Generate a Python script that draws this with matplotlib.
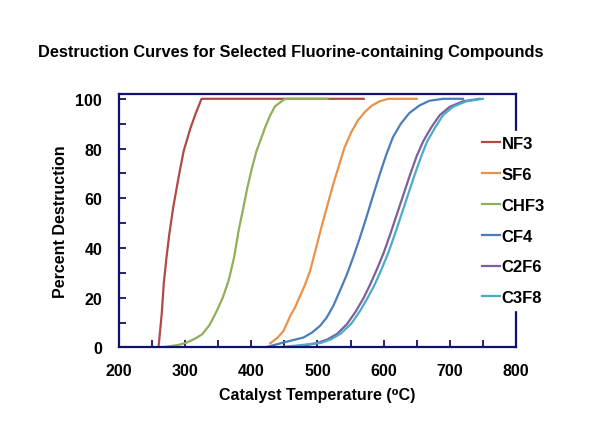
import numpy as np
import matplotlib
matplotlib.use('Agg')
import matplotlib.pyplot as plt
from matplotlib.ticker import MultipleLocator

plt.rcParams['font.family'] = ['Liberation Sans', 'DejaVu Sans']
plt.rcParams['font.weight'] = 'bold'

# data
nf3_t = [260, 265, 268, 272, 276, 282, 290, 298, 308, 316, 325, 570]
nf3_v = [0, 14, 26, 36, 45, 56, 68, 79, 88, 94, 100, 100]

sf6_t = [429, 440, 449, 459, 466, 474, 481, 489, 497, 506, 515, 524, 533, 541,
         551, 561, 571, 582, 594, 607, 650]
sf6_v = [1.7, 4, 6.7, 12.7, 16, 20.8, 25, 30.8, 39, 48.3, 57, 65.7, 73.5, 80.4,
         86.5, 91.2, 94.5, 97.2, 99, 100, 100]

chf3_t = [265, 290, 303, 315, 326, 337, 348, 357, 366, 374, 381, 388, 394, 401,
          408, 415, 421, 428, 436, 451, 515]
chf3_v = [0, 1, 2, 3.5, 5.3, 9, 14.7, 20, 27, 36, 47, 56, 64, 72,
          79, 84, 88.5, 93, 97, 100, 100]

cf4_t = [421, 435, 449, 464, 479, 492, 504, 514, 524, 534, 544, 554, 564, 574,
         584, 594, 604, 614, 626, 639, 654, 669, 690, 720]
cf4_v = [0, 1, 2, 3, 4, 6, 8.7, 12, 16.7, 22.8, 29, 36.2, 44, 52.3,
         61, 69.5, 77.5, 84.5, 90, 94.3, 97.3, 99.2, 100, 100]

c2f6_t = [460, 480, 500, 515, 530, 545, 558, 570, 580, 590, 600, 610, 620, 630,
          640, 650, 660, 672, 685, 700, 720, 745]
c2f6_v = [0, 0.8, 1.8, 3.2, 5.5, 9.5, 14.5, 20, 25.5, 31.5, 38, 45.5, 53.5, 61.5,
          69.5, 77, 83, 88.5, 93.5, 96.8, 99, 100]

c3f8_t = [440, 470, 505, 520, 535, 551, 564, 576, 587, 597, 607, 617, 627, 637,
          647, 657, 666, 678, 690, 705, 725, 750]
c3f8_v = [0, 0.8, 1.8, 3.2, 5.5, 9.5, 14.5, 20, 25.5, 31.5, 38, 45.5, 53.5, 61.5,
          69.5, 77, 83, 88.5, 93.5, 96.8, 99, 100]

names = ['NF3', 'SF6', 'CHF3', 'CF4', 'C2F6', 'C3F8']
temps = [nf3_t, sf6_t, chf3_t, cf4_t, c2f6_t, c3f8_t]
values = [nf3_v, sf6_v, chf3_v, cf4_v, c2f6_v, c3f8_v]
colors = ['#B04A45', '#E8924A', '#8FB05A', '#4A7EBB', '#7D5F9E', '#4AACC5']

fig = plt.figure(figsize=(6, 4.35), dpi=100)
ax = fig.add_axes([0.198, 0.199, 0.662, 0.583])

for name, t, v, c in zip(names, temps, values, colors):
    ax.plot(t, v, color=c, lw=1.6, label=name)

ax.set_xlim(200, 800)
ax.set_ylim(0, 102)
ax.xaxis.set_major_locator(MultipleLocator(100))
ax.xaxis.set_minor_locator(MultipleLocator(50))
ax.yaxis.set_major_locator(MultipleLocator(20))
ax.yaxis.set_minor_locator(MultipleLocator(10))

navy = '#10106E'
for s in ax.spines.values():
    s.set_color(navy)
    s.set_linewidth(1.6)
ax.tick_params(which='both', direction='in', color=navy, width=1.3,
               labelsize=11.5, pad=11)
ax.tick_params(which='major', length=5)
ax.tick_params(which='minor', length=5)
ax.tick_params(axis='y', pad=12)

ax.set_xlabel('Catalyst Temperature (⁰C)', fontsize=11.5, fontweight='bold', labelpad=7)
ax.set_ylabel('Percent Destruction', fontsize=11.5, fontweight='bold', labelpad=5)
fig.text(0.484, 0.88, 'Destruction Curves for Selected Fluorine-containing Compounds',
         ha='center', va='center', fontsize=11.8, fontweight='bold')

leg = ax.legend(loc='center left', bbox_to_anchor=(0.88, 0.5), frameon=True,
                fontsize=12, handlelength=1.1, handletextpad=0.1,
                labelspacing=0.95, borderpad=0.3)
leg.get_frame().set_edgecolor('white')
leg.get_frame().set_facecolor('white')
leg.get_frame().set_alpha(1)

fig.savefig('out.png', dpi=100)
